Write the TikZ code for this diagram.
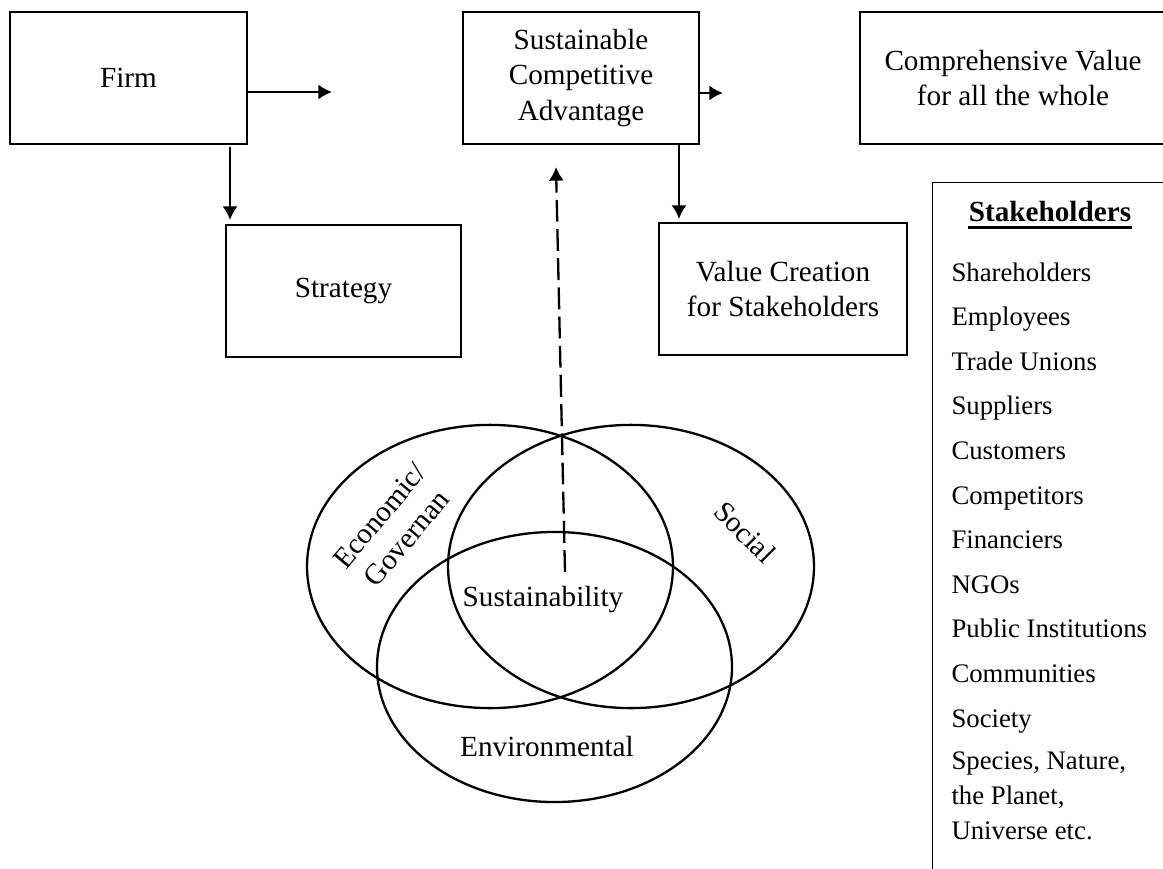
\documentclass[tikz,border=0pt]{standalone}
\usepackage{fontspec}
\setmainfont{Liberation Serif}
\usetikzlibrary{arrows.meta,shapes,calc}
\tikzstyle{block}=[draw,line width=0.6pt,minimum height=54.25pt,inner sep=2pt,align=center,font=\fontsize{12}{14.5}\selectfont]
\tikzstyle{edge}=[draw,line width=0.95pt,->,>={Latex[length=5.6pt,width=6.2pt]}]
\tikzstyle{venn}=[draw,line width=0.95pt]
\tikzstyle{venntext}=[inner sep=1pt,font=\fontsize{12}{14.5}\selectfont]
\tikzstyle{member}=[anchor=base west,inner sep=0pt,font=\fontsize{11}{14.4}\selectfont]

\begin{document}
\begin{tikzpicture}[x=0.411pt,y=-0.411pt]
        \useasboundingbox (0,0) rectangle (1163,868);
        \clip (0,0) rectangle (1163,868);
        % boxes
        \node[block,minimum width=97.4pt] (firm) at (128.5,78) {Firm};
        \node[block,minimum width=97pt] (sca) at (581,78) {Sustainable\\Competitive\\Advantage};
        \node[block,minimum width=125.8pt] (comp) at (1013,78) {Comprehensive Value\\for all the whole};
        \node[block,minimum width=96.6pt] (strat) at (343.5,291) {Strategy};
        \node[block,minimum width=101.9pt] (value) at (783,289) {Value Creation\\for Stakeholders};
        % arrows
        \coordinate (firmout) at (332,92);
        \coordinate (scaout) at (723,93);
        \coordinate (stratin) at (230,220);
        \coordinate (valuein) at (679,219);
        \draw[edge] (firm.east |- firmout) to (firmout);
        \draw[edge] (sca.east |- scaout) to (scaout);
        \draw[edge,shorten <=1pt] (stratin |- firm.south) to (stratin);
        \draw[edge] (valuein |- sca.south) to (valuein);
        % venn diagram
        \draw[venn] (490,566.5) ellipse [x radius=75.2pt,y radius=58.2pt];
        \draw[venn] (631,566.5) ellipse [x radius=75.2pt,y radius=58.2pt];
        \draw[venn] (554.5,667) ellipse [x radius=72.95pt,y radius=55.5pt];
        \node[venntext] (sust) at (543,600) {Sustainability};
        \node[venntext] (env) at (547,747) {Environmental};
        \node[venntext,rotate=50,align=center] (econ) at (393,527) {Economic/\\Governan};
        \node[venntext,rotate=-45] (soc) at (745,532) {Social};
        \coordinate (venntop) at (565,572);
        \coordinate (dashtip) at (556,167);
        \draw[edge,dash pattern=on 9pt off 3pt] (venntop) to (dashtip);
        % stakeholder list
        \node[draw,line width=0.6pt,anchor=north west,minimum width=98pt,minimum height=290pt,inner sep=0pt] (stake) at (932,182) {};
        \node[inner sep=0pt,font=\fontsize{12}{14}\selectfont\bfseries] (ttl) at (1050,212) {Stakeholders};
        \draw[line width=1.2pt] ([yshift=-2.2pt]ttl.base west) -- ([yshift=-2.2pt]ttl.base east);
        \foreach \who [count=\i from 0] in {Shareholders,Employees,Trade Unions,Suppliers,Customers,Competitors,Financiers,NGOs,Public Institutions,Communities,Society}
          \node[member] (m\i) at (951,{281+44.6*\i}) {\who};
        \node[member,anchor=west,align=left] (m11) at (951,796) {Species, Nature,\\the Planet,\\Universe etc.};
      \end{tikzpicture}
\end{document}
